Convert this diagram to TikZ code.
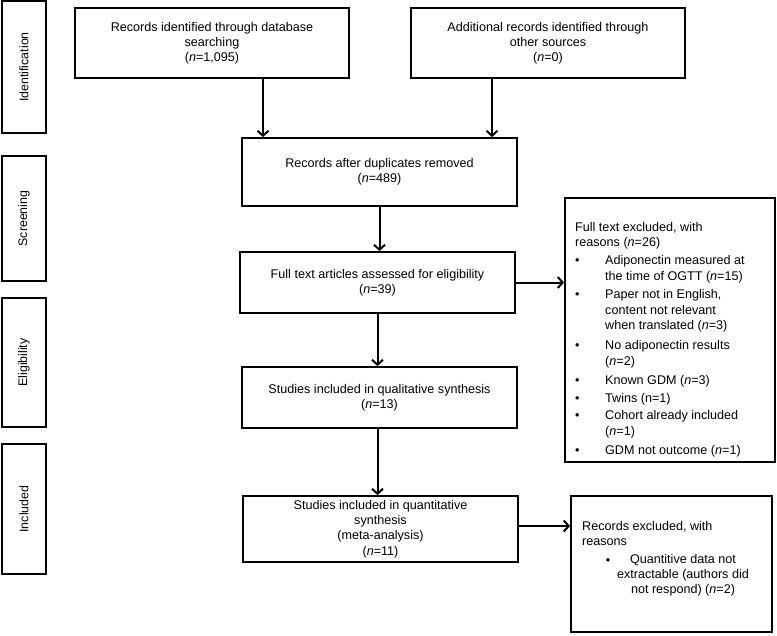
\documentclass[tikz,border=0pt]{standalone}
\usepackage{fontspec}
\setmainfont{Liberation Sans}
\usetikzlibrary{arrows.meta}
\begin{document}
\begin{tikzpicture}[x=1pt,y=-1pt,
  font=\fontsize{12.6}{15.2}\selectfont,
  flowbox/.style={draw=black,line width=1.8pt,rectangle,inner sep=0pt,align=center},
  stagebox/.style={draw=black,line width=1.8pt,rectangle,inner sep=0pt,minimum width=44pt},
  stagetext/.style={rotate=90,font=\fontsize{12.4}{14}\selectfont},
  listtext/.style={font=\fontsize{12.6}{15.6}\selectfont},
  arr/.style={line width=2pt,-{Straight Barb[length=5pt,width=11pt,line width=2pt]}}
]
\useasboundingbox (0,0) rectangle (777,635);

% stage labels
\node[stagebox,minimum height=132pt] (sid) at (24,67) {};
\node[stagetext] (tid) at (sid.center) {Identification};
\node[stagebox,minimum height=125pt] (ssc) at (24,218.5) {};
\node[stagetext] (tsc) at (ssc.center) {Screening};
\node[stagebox,minimum height=129pt] (sel) at (24,362.5) {};
\node[stagetext] (tel) at (sel.center) {Eligibility};
\node[stagebox,minimum height=130pt] (sin) at (24,509) {};
\node[stagetext] (tin) at (sin.center) {Included};

% main boxes
\node[flowbox,minimum width=274pt,minimum height=70pt] (b1) at (212,43)
  {Records identified through database\\searching\\(\textit{n}=1,095)};
\node[flowbox,minimum width=274pt,minimum height=70pt] (b2) at (548,43)
  {Additional records identified through\\other sources\\(\textit{n}=0)};
\node[flowbox,minimum width=275pt,minimum height=68pt] (b3) at (379.5,172)
  {Records after duplicates removed\\(\textit{n}=489)};
\node[flowbox,minimum width=275pt,minimum height=61pt] (b4) at (377.5,282.5)
  {Full text articles assessed for eligibility\\(\textit{n}=39)};
\node[flowbox,minimum width=275pt,minimum height=61pt] (b5) at (379.5,397.5)
  {Studies included in qualitative synthesis\\(\textit{n}=13)};
\node[flowbox,minimum width=275pt,minimum height=66pt] (b6) at (380.5,529)
  {Studies included in quantitative\\synthesis\\(meta-analysis)\\(\textit{n}=11)};

% exclusion boxes
\node[flowbox,minimum width=210pt,minimum height=264pt] (ba) at (670,330) {};
\node[listtext,anchor=north west,inner sep=0pt,align=left] (ta) at (575,222) {%
  Full text excluded, with\\reasons (\textit{n}=26)\\[3pt]
  \begin{tabular}{@{}p{30pt}@{}l@{}}
  \textbullet & Adiponectin measured at\\
              & the time of OGTT (\textit{n}=15)\\[3pt]
  \textbullet & Paper not in English,\\
              & content not relevant\\
              & when translated (\textit{n}=3)\\[4.5pt]
  \textbullet & No adiponectin results\\
              & (\textit{n}=2)\\[3pt]
  \textbullet & Known GDM (\textit{n}=3)\\[2.5pt]
  \textbullet & Twins (n=1)\\[2pt]
  \textbullet & Cohort already included\\
              & (\textit{n}=1)\\[3.5pt]
  \textbullet & GDM not outcome (\textit{n}=1)
  \end{tabular}};

\node[flowbox,minimum width=201pt,minimum height=136pt] (bb) at (671.5,564) {};
\node[anchor=north west,inner sep=0pt,align=left] (tb) at (582,521)
  {Records excluded, with\\reasons};
\node[inner sep=0pt] (tbb) at (608,562) {\textbullet};
\node[anchor=north,inner sep=0pt,align=center] (tbt) at (683,554)
  {Quantitive data not\\extractable (authors did\\not respond) (\textit{n}=2)};

% connectors
\draw[arr] ([xshift=51pt]b1.south) -- ([xshift=51pt]b1.south |- b3.north);
\draw[arr] ([xshift=-56pt]b2.south) -- ([xshift=-56pt]b2.south |- b3.north);
\draw[arr] (b3.south) -- (b3.south |- b4.north);
\draw[arr] (b4.south) -- (b4.south |- b5.north);
\draw[arr] ([xshift=-2pt]b5.south) -- ([xshift=-2pt]b5.south |- b6.north);
\draw[arr] (b4.east) -- (b4.east -| ba.west);
\draw[arr] ([yshift=3pt]b6.east) -- ([yshift=3pt]b6.east -| bb.west);
\end{tikzpicture}
\end{document}
